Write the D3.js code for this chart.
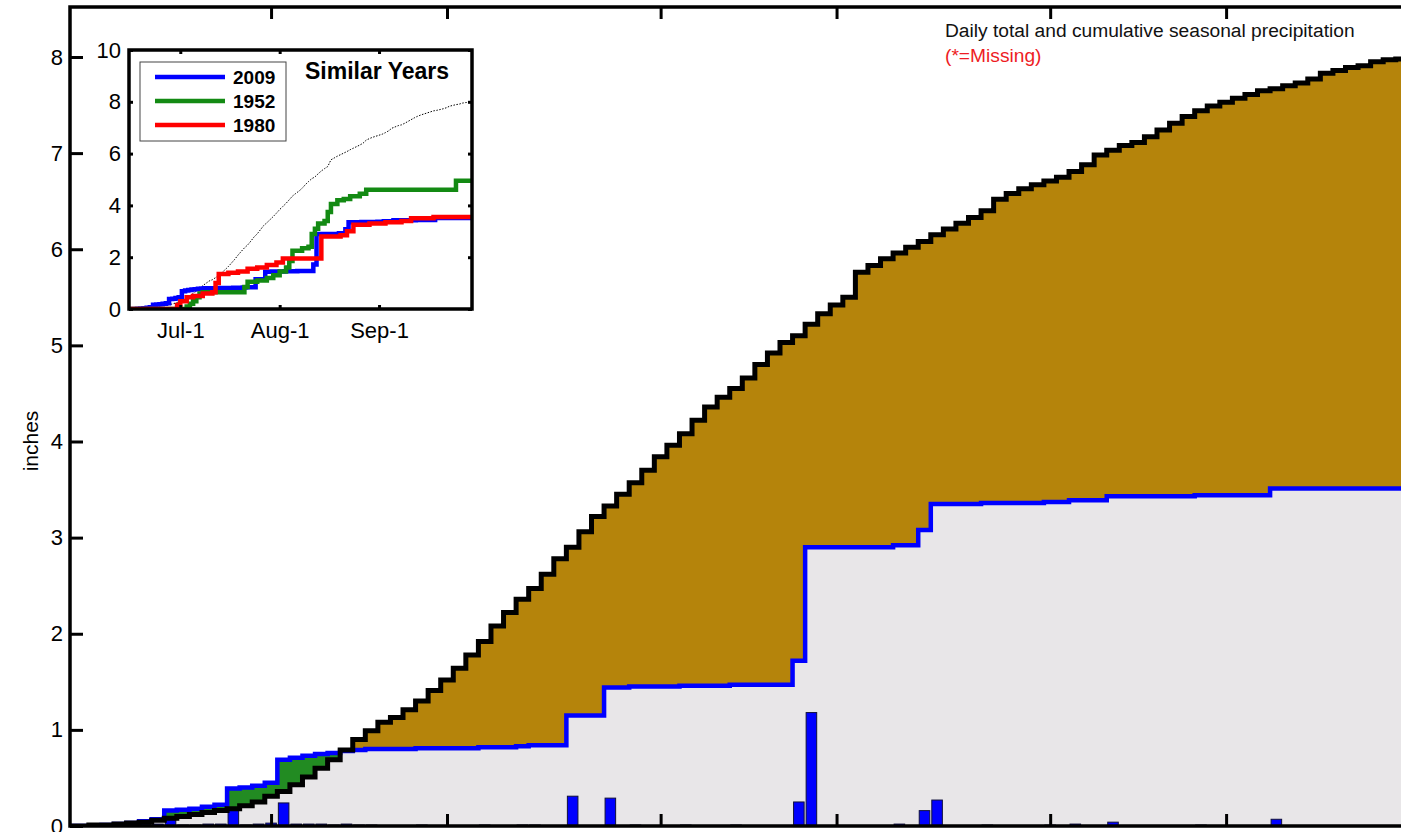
<!doctype html>
<html>
<head>
<meta charset="utf-8">
<script src="https://cdn.jsdelivr.net/npm/d3@7"></script>
<style>
  body { margin: 0; background: #fff; }
  svg { display: block; font-family: "Liberation Sans", Arial, sans-serif; }
</style>
</head>
<body>
<script>
// Season runs Jun 15 – Sep 30, one value per day.
const startDate = new Date(Date.UTC(2009, 5, 15));
const dates = d3.utcDay.range(startDate, new Date(Date.UTC(2009, 9, 1)));

// Normal (average) cumulative precipitation, inches.
const normalCumulative = [
  0.00, 0.00, 0.01, 0.01, 0.02, 0.03, 0.04, 0.06, 0.08, 0.10,
  0.12, 0.14, 0.16, 0.18, 0.21, 0.25, 0.31, 0.36, 0.43, 0.51,
  0.60, 0.69, 0.79, 0.90, 0.99, 1.08, 1.13, 1.21, 1.30, 1.41,
  1.52, 1.64, 1.78, 1.92, 2.08, 2.22, 2.36, 2.47, 2.62, 2.78,
  2.90, 3.06, 3.22, 3.33, 3.45, 3.57, 3.70, 3.84, 3.96, 4.08,
  4.22, 4.36, 4.46, 4.55, 4.66, 4.80, 4.92, 5.03, 5.10, 5.22,
  5.33, 5.42, 5.50, 5.76, 5.83, 5.90, 5.96, 6.02, 6.08, 6.15,
  6.21, 6.27, 6.33, 6.40, 6.52, 6.58, 6.63, 6.67, 6.71, 6.75,
  6.81, 6.88, 6.98, 7.03, 7.08, 7.11, 7.17, 7.24, 7.31, 7.38,
  7.44, 7.49, 7.53, 7.57, 7.61, 7.65, 7.67, 7.70, 7.73, 7.77,
  7.83, 7.86, 7.89, 7.91, 7.95, 7.97, 7.98, 8.00
];

// Daily totals for 2009, inches.
const rain2009 = [
  0, 0, 0, 0.01, 0.01, 0.01, 0.02, 0.02, 0.09, 0.01,
  0.01, 0.02, 0.02, 0.17, 0.01, 0.02, 0.03, 0.24, 0.02, 0.02,
  0.02, 0.01, 0.02, 0.01, 0.01, 0, 0, 0, 0.01, 0,
  0, 0, 0, 0.01, 0, 0, 0.01, 0.01, 0, 0,
  0.31, 0, 0, 0.29, 0, 0.01, 0, 0, 0, 0.01,
  0, 0, 0, 0.01, 0, 0, 0, 0, 0.25, 1.18,
  0, 0, 0, 0, 0, 0, 0.02, 0, 0.16, 0.27,
  0, 0, 0, 0.01, 0, 0, 0, 0, 0.01, 0,
  0.02, 0, 0, 0.04, 0, 0, 0, 0, 0, 0,
  0.01, 0, 0, 0, 0, 0, 0.07, 0, 0, 0,
  0, 0, 0, 0, 0, 0, 0, 0
];

// Similar years: [day of season, cumulative inches]
const similar1952 = [
  [0, 0], [17, 0], [18, 0.1], [19, 0.2], [20, 0.3], [21, 0.45], [22, 0.6], [23, 0.65],
  [35, 0.65], [36, 0.85], [37, 1.05], [40, 1.1], [43, 1.2], [45, 1.3], [47, 1.45],
  [49, 1.6], [50, 1.85], [51, 2.25], [54, 2.35], [56, 2.4], [57, 2.9], [58, 3.1],
  [59, 3.3], [61, 3.4], [62, 3.75], [63, 4.05], [65, 4.2], [67, 4.25], [69, 4.35],
  [72, 4.45], [74, 4.6], [101, 4.6], [102, 4.95], [107, 4.95]
];
const similar1980 = [
  [0, 0], [14, 0], [15, 0.15], [16, 0.3], [18, 0.45], [20, 0.5], [23, 0.6], [26, 0.65],
  [27, 1.0], [28, 1.35], [31, 1.4], [34, 1.45], [37, 1.55], [40, 1.6], [43, 1.7],
  [46, 1.8], [48, 1.95], [59, 1.95], [60, 2.8], [66, 2.85], [68, 3.0], [70, 3.25],
  [75, 3.3], [80, 3.35], [85, 3.4], [88, 3.5], [95, 3.55], [107, 3.6]
];

const yTicks = [0, 1, 2, 3, 4, 5, 6, 7, 8];
const mainTickDates = ["2009-07-01", "2009-07-15", "2009-08-01", "2009-08-15", "2009-09-01", "2009-09-15"];
const insetYTicks = [0, 2, 4, 6, 8, 10];
const insetTickDates = ["2009-07-01", "2009-08-01", "2009-09-01"];
const insetTickLabels = ["Jul-1", "Aug-1", "Sep-1"];
const legendYears = ["2009", "1952", "1980"];
const legendColors = ["#0000ff", "#138a13", "#ff0000"];

// Dimensions (the plot runs past the right edge of the picture).
const width = 1401;
const height = 832;
const marginLeft = 70;
const plotTop = 7;
const plotBottom = 826;
const plotRight = 1414.6;

const x = d3.scaleUtc([dates[0], dates[dates.length - 1]], [marginLeft, plotRight]);
const y = d3.scaleLinear([0, 8.52], [plotBottom, plotTop]);

const actual = d3.cumsum(rain2009);
const rows = dates.map((date, i) => ({date, normal: normalCumulative[i], actual: actual[i], rain: rain2009[i]}));

const svg = d3.select("body").append("svg")
    .attr("width", width)
    .attr("height", height)
    .attr("viewBox", [0, 0, width, height]);

svg.append("clipPath").attr("id", "plot")
  .append("rect")
    .attr("x", marginLeft).attr("y", plotTop)
    .attr("width", plotRight - marginLeft).attr("height", plotBottom - plotTop);

const plot = svg.append("g").attr("clip-path", "url(#plot)");

const band = (lo, hi) => d3.area()
    .curve(d3.curveStep)
    .x((d) => x(d.date))
    .y0((d) => y(lo(d)))
    .y1((d) => y(hi(d)));

// Grey below both curves, green for surplus, brown for deficit.
plot.append("path").datum(rows)
    .attr("fill", "#e8e6e8")
    .attr("d", band(() => 0, (d) => Math.min(d.normal, d.actual)));
plot.append("path").datum(rows)
    .attr("fill", "#228b22")
    .attr("d", band((d) => d.normal, (d) => Math.max(d.normal, d.actual)));
plot.append("path").datum(rows)
    .attr("fill", "#b5840b")
    .attr("d", band((d) => d.actual, (d) => Math.max(d.normal, d.actual)));

// Daily bars.
const barWidth = (x(dates[1]) - x(dates[0])) * 0.84;
plot.append("g")
    .attr("fill", "#0000ff")
    .attr("stroke", "#10103a")
    .attr("stroke-width", 1)
  .selectAll("rect")
  .data(rows.filter((d) => d.rain > 0))
  .join("rect")
    .attr("x", (d) => x(d.date) - barWidth / 2)
    .attr("width", barWidth)
    .attr("y", (d) => y(d.rain))
    .attr("height", (d) => y(0) - y(d.rain));

// Cumulative lines.
const stepLine = (key) => d3.line()
    .curve(d3.curveStep)
    .x((d) => x(d.date))
    .y((d) => y(d[key]));

plot.append("path").datum(rows)
    .attr("fill", "none")
    .attr("stroke", "#0000ff")
    .attr("stroke-width", 4.5)
    .attr("d", stepLine("actual"));
plot.append("path").datum(rows)
    .attr("fill", "none")
    .attr("stroke", "#000")
    .attr("stroke-width", 5)
    .attr("d", stepLine("normal"));

// Frame and inner ticks.
svg.append("rect")
    .attr("x", marginLeft).attr("y", plotTop)
    .attr("width", plotRight - marginLeft).attr("height", plotBottom - plotTop)
    .attr("fill", "none")
    .attr("stroke", "#000")
    .attr("stroke-width", 3.5);

const tickDates = mainTickDates.map((s) => new Date(s));
const styleAxis = (g, size) => {
  g.select(".domain").remove();
  g.selectAll("line").attr("stroke", "#000").attr("stroke-width", 3);
  g.selectAll("text").attr("font-size", size).attr("font-family", "Liberation Sans, Arial, sans-serif").attr("fill", "#000");
  g.attr("font-family", null).attr("font-size", null);
};

svg.append("g")
    .attr("transform", `translate(${marginLeft},0)`)
    .call(d3.axisLeft(y).tickValues(yTicks).tickSize(-13).tickPadding(7).tickFormat(d3.format("d")))
    .call((g) => styleAxis(g, 22));
svg.append("g")
    .attr("transform", `translate(${plotRight},0)`)
    .call(d3.axisRight(y).tickValues(yTicks).tickSize(-13).tickFormat(""))
    .call((g) => styleAxis(g, 22));
svg.append("g")
    .attr("transform", `translate(0,${plotTop})`)
    .call(d3.axisTop(x).tickValues(tickDates).tickSize(-12).tickFormat(""))
    .call((g) => styleAxis(g, 22));
svg.append("g")
    .attr("transform", `translate(0,${plotBottom})`)
    .call(d3.axisBottom(x).tickValues(tickDates).tickSize(-12).tickFormat(""))
    .call((g) => styleAxis(g, 22));

svg.append("text")
    .attr("transform", "translate(38,441) rotate(-90)")
    .attr("text-anchor", "middle")
    .attr("font-size", 21)
    .attr("fill", "#000")
    .text("inches");

svg.append("text")
    .attr("x", 945).attr("y", 37)
    .attr("font-size", 19.2)
    .attr("fill", "#111")
    .text("Daily total and cumulative seasonal precipitation");
svg.append("text")
    .attr("x", 945).attr("y", 62)
    .attr("font-size", 19.2)
    .attr("fill", "#ee1c24")
    .text("(*=Missing)");

// Inset: similar years.
const ix = d3.scaleUtc(x.domain(), [129, 472]);
const iy = d3.scaleLinear([0, 10], [309, 50]);
const inset = svg.append("g");

inset.append("rect")
    .attr("x", 129).attr("y", 50).attr("width", 343).attr("height", 259)
    .attr("fill", "#fff");

inset.append("clipPath").attr("id", "inset")
  .append("rect").attr("x", 129).attr("y", 50).attr("width", 343).attr("height", 259);

const insetPlot = inset.append("g").attr("clip-path", "url(#inset)");

insetPlot.append("path").datum(rows)
    .attr("fill", "none")
    .attr("stroke", "#000")
    .attr("stroke-width", 1)
    .attr("stroke-dasharray", "1.5,1.5")
    .attr("d", d3.line().x((d) => ix(d.date)).y((d) => iy(d.normal)));

const yearLine = d3.line()
    .curve(d3.curveStepAfter)
    .x(([day]) => ix(d3.utcDay.offset(startDate, day)))
    .y(([, v]) => iy(v));

insetPlot.append("path").datum(rows)
    .attr("fill", "none")
    .attr("stroke", legendColors[0])
    .attr("stroke-width", 4.5)
    .attr("d", d3.line().curve(d3.curveStep).x((d) => ix(d.date)).y((d) => iy(d.actual)));
insetPlot.append("path").datum(similar1952)
    .attr("fill", "none")
    .attr("stroke", legendColors[1])
    .attr("stroke-width", 4.5)
    .attr("d", yearLine);
insetPlot.append("path").datum(similar1980)
    .attr("fill", "none")
    .attr("stroke", legendColors[2])
    .attr("stroke-width", 4.5)
    .attr("d", yearLine);

const insetDates = insetTickDates.map((s) => new Date(s));
inset.append("g")
    .attr("transform", "translate(129,0)")
    .call(d3.axisLeft(iy).tickValues(insetYTicks).tickSize(-4).tickPadding(8))
    .call((g) => styleAxis(g, 22));
inset.append("g")
    .attr("transform", "translate(472,0)")
    .call(d3.axisRight(iy).tickValues(insetYTicks).tickSize(-4).tickFormat(""))
    .call((g) => styleAxis(g, 22));
inset.append("g")
    .attr("transform", "translate(0,50)")
    .call(d3.axisTop(ix).tickValues(insetDates).tickSize(-4).tickFormat(""))
    .call((g) => styleAxis(g, 22));
inset.append("g")
    .attr("transform", "translate(0,309)")
    .call(d3.axisBottom(ix).tickValues(insetDates).tickSize(-4).tickPadding(13)
      .tickFormat((d, i) => insetTickLabels[i]))
    .call((g) => styleAxis(g, 22));

inset.append("rect")
    .attr("x", 129).attr("y", 50).attr("width", 343).attr("height", 259)
    .attr("fill", "none")
    .attr("stroke", "#000")
    .attr("stroke-width", 3.5);

// Legend.
const legend = inset.append("g");
legend.append("rect")
    .attr("x", 140).attr("y", 62).attr("width", 146).attr("height", 79)
    .attr("fill", "#fff")
    .attr("stroke", "#444")
    .attr("stroke-width", 1);
legend.selectAll("g")
  .data(legendYears)
  .join("g")
    .attr("transform", (d, i) => `translate(0,${77 + i * 24})`)
    .call((g) => g.append("line")
      .attr("x1", 155).attr("x2", 225)
      .attr("stroke", (d, i) => legendColors[i])
      .attr("stroke-width", 4.5))
    .call((g) => g.append("text")
      .attr("x", 233).attr("dy", "0.36em")
      .attr("font-size", 19)
      .attr("font-weight", "bold")
      .attr("fill", "#000")
      .text((d) => d));

inset.append("text")
    .attr("x", 305).attr("y", 79)
    .attr("font-size", 23)
    .attr("font-weight", "bold")
    .attr("fill", "#000")
    .text("Similar Years");
</script>
</body>
</html>
